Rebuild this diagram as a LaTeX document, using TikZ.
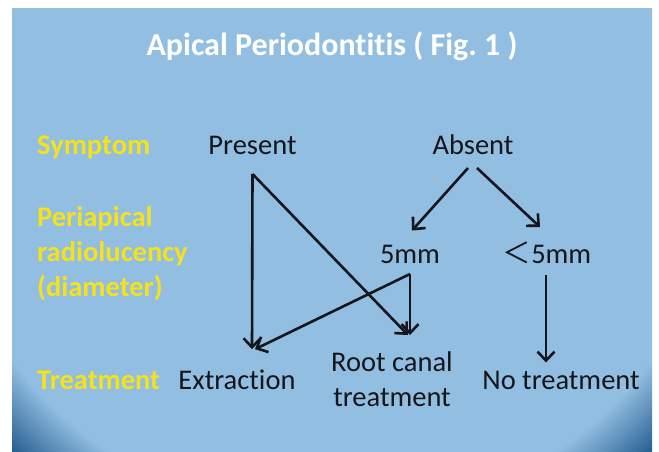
\documentclass[tikz,border=0pt]{standalone}
\usepackage{fontspec}
\setmainfont{Carlito}[Ligatures={NoCommon}]
\newfontfamily\cjk{Noto Sans CJK JP}
\usetikzlibrary{arrows.meta}
\definecolor{slideBlue}{HTML}{92BEE1}
\definecolor{slideDeep}{HTML}{1A5589}
\definecolor{slideGold}{HTML}{F6E21C}
\definecolor{slideInk}{HTML}{14161C}
\pgfdeclareradialshading{slidebg}{\pgfpoint{0bp}{0bp}}{color(0bp)=(slideBlue); color(20.8bp)=(slideBlue); color(24.3bp)=(slideDeep); color(25bp)=(slideDeep)}
\frenchspacing

\begin{document}
\begin{tikzpicture}[x=1pt,y=-1pt,>=Latex]
  \tikzset{
    ttl/.style={font=\fontsize{32}{38}\selectfont\bfseries,text=white,inner sep=0pt},
    lbl/.style={font=\fontsize{28.5}{35}\selectfont\bfseries,text=slideGold,inner sep=0pt,align=left},
    item/.style={font=\fontsize{28.5}{35}\selectfont,text=slideInk,inner sep=0pt,align=center},
    flow/.style={draw=slideInk,line width=2.6pt,-{Straight Barb[length=9pt,width=17pt]}}
  }
  \useasboundingbox (0,0) rectangle (659,452);
  % slide background
  \begin{scope}
    \clip (12,9) rectangle (652,452);
    \shade[shading=slidebg] (332,120) circle (480);
  \end{scope}
  \node[ttl,anchor=base] (title) at (332,56) {Apical Periodontitis ( Fig. 1 )};
  % row labels
  \node[lbl,anchor=base west] (symptom) at (37,154) {Symptom};
  \node[lbl,anchor=base west] (radio) at (37,296) {Periapical\\radiolucency\\(diameter)};
  \node[lbl,anchor=base west] (treat) at (37,389) {Treatment};
  % items
  \node[item,anchor=base] (present) at (252.5,154) {Present};
  \node[item,anchor=base] (absent) at (473,154) {Absent};
  \node[item,anchor=base] (big) at (410,263) {5mm};
  \node[item,anchor=base] (small) at (547,263) {{\cjk ＜}5mm};
  \node[item,anchor=base] (extract) at (237,389) {Extraction};
  \node[item,anchor=base] (rct) at (392,406) {Root canal\\treatment};
  \node[item,anchor=base] (none) at (561,389) {No treatment};
  % connectors
  \draw[flow] ([yshift=-20pt]present.base) -- ([xshift=15pt,yshift=20pt]extract.north);
  \draw[flow] ([yshift=-20pt]present.base) -- ([xshift=16pt,yshift=16pt]rct.north);
  \draw[flow] ([xshift=-5pt,yshift=-14pt]absent.base) -- ([xshift=2pt,yshift=14pt]big.north);
  \draw[flow] ([xshift=4pt,yshift=-14pt]absent.base) -- ([xshift=-7pt,yshift=14pt]small.north);
  \draw[flow] ([yshift=-11pt]big.base) -- ([xshift=18pt,yshift=16pt]rct.north);
  \draw[flow] ([yshift=-11pt]big.base) -- ([xshift=18pt,yshift=20pt]extract.north);
  \draw[flow] ([xshift=-1pt,yshift=-12pt]small.base) -- ([xshift=-15pt,yshift=8pt]none.north);
\end{tikzpicture}
\end{document}
